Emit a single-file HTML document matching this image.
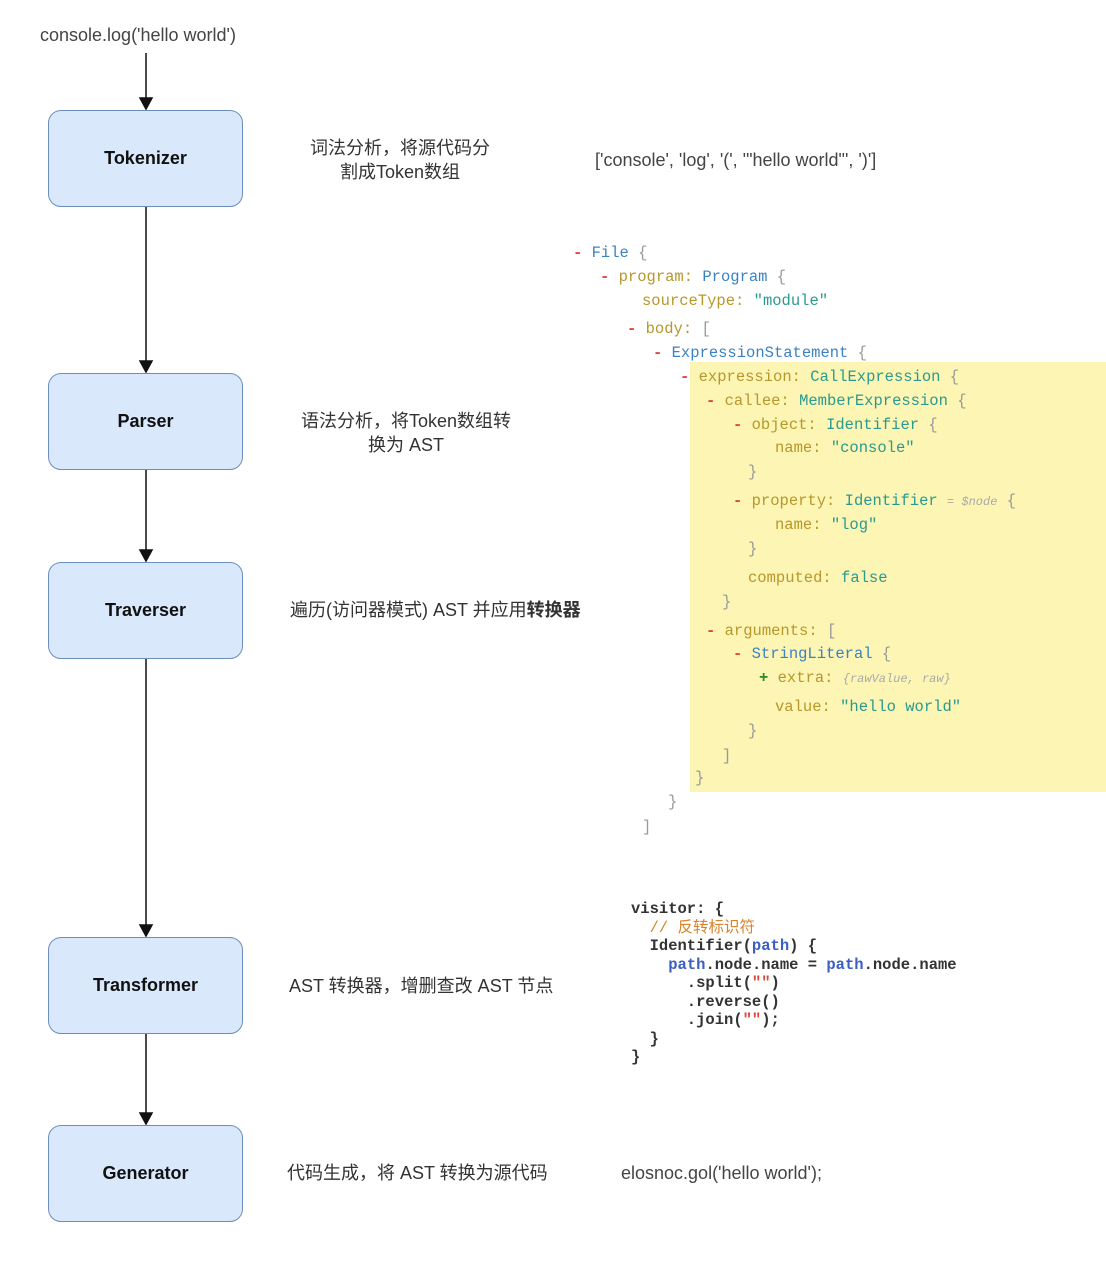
<!DOCTYPE html>
<html><head><meta charset="utf-8"><style>
body{margin:0;width:1106px;height:1266px;background:#fff;position:relative;overflow:hidden;font-family:"Liberation Sans","Noto Sans CJK SC",sans-serif;color:#333}
.a{position:absolute;white-space:nowrap}
.box{position:absolute;left:48px;width:193px;height:95px;background:#dae8fc;border:1px solid #6c8ebf;border-radius:13px;display:flex;align-items:center;justify-content:center;font-weight:bold;font-size:18px;color:#111}
.t{position:absolute;font-size:18px;color:#333;text-align:center;line-height:24px;white-space:nowrap}
.c{position:absolute;font-family:"Liberation Mono",monospace;font-size:15.5px;line-height:18px;white-space:nowrap;color:#999}
.m{color:#e0443a;font-weight:bold}.k{color:#b8972c}.y{color:#3b82c4}.s{color:#2a9a8f}.g{color:#2a8a2a;font-weight:bold}.i{color:#aaa;font-style:italic;font-size:12px}
.v{position:absolute;font-family:"Liberation Mono",monospace;font-size:15.5px;font-weight:bold;line-height:18.5px;color:#333;white-space:pre}
</style></head><body>
<div class="a" style="left:40px;top:25px;font-size:18px;color:#444">console.log('hello world')</div>
<svg class="a" style="left:0;top:0" width="300" height="1266">
<g stroke="#111" stroke-width="1.5" fill="#111">
<line x1="146" y1="53" x2="146" y2="100"/><path d="M140 98 L146 109 L152 98Z"/>
<line x1="146" y1="207" x2="146" y2="362"/><path d="M140 361 L146 372 L152 361Z"/>
<line x1="146" y1="469" x2="146" y2="551"/><path d="M140 550 L146 561 L152 550Z"/>
<line x1="146" y1="658" x2="146" y2="926"/><path d="M140 925 L146 936 L152 925Z"/>
<line x1="146" y1="1033" x2="146" y2="1114"/><path d="M140 1113 L146 1124 L152 1113Z"/>
</g></svg>
<div class="box" style="top:110px">Tokenizer</div>
<div class="box" style="top:373px">Parser</div>
<div class="box" style="top:562px">Traverser</div>
<div class="box" style="top:937px">Transformer</div>
<div class="box" style="top:1125px">Generator</div>
<div class="t" style="left:300px;top:136px;width:200px">词法分析，将源代码分<br>割成Token数组</div>
<div class="t" style="left:290px;top:409px;width:232px">语法分析，将Token数组转<br>换为 AST</div>
<div class="t" style="left:290px;top:598px">遍历(访问器模式) AST 并应用<b>转换器</b></div>
<div class="t" style="left:289px;top:974px">AST 转换器，增删查改 AST 节点</div>
<div class="t" style="left:287px;top:1161px">代码生成，将 AST 转换为源代码</div>
<div class="t" style="left:595px;top:148px;color:#444">['console', 'log', '(', '"hello world"', ')']</div>
<div class="t" style="left:621px;top:1161px;color:#444">elosnoc.gol('hello world');</div>
<div class="a" style="left:690px;top:362px;width:416px;height:430px;background:#fcf5b4"></div>
<div class="c" style="left:573px;top:244px"><span class="m">-</span> <span class="y">File</span>  {</div>
<div class="c" style="left:600px;top:268px"><span class="m">-</span> <span class="k">program:</span> <span class="y">Program</span>  {</div>
<div class="c" style="left:642px;top:292px"><span class="k">sourceType:</span> <span class="s">"module"</span></div>
<div class="c" style="left:627px;top:320px"><span class="m">-</span> <span class="k">body:</span>  [</div>
<div class="c" style="left:653px;top:344px"><span class="m">-</span> <span class="y">ExpressionStatement</span>  {</div>
<div class="c" style="left:680px;top:368px"><span class="m">-</span> <span class="k">expression:</span> <span class="s">CallExpression</span>  {</div>
<div class="c" style="left:706px;top:392px"><span class="m">-</span> <span class="k">callee:</span> <span class="s">MemberExpression</span>  {</div>
<div class="c" style="left:733px;top:416px"><span class="m">-</span> <span class="k">object:</span> <span class="s">Identifier</span>  {</div>
<div class="c" style="left:775px;top:439px"><span class="k">name:</span> <span class="s">"console"</span></div>
<div class="c" style="left:748px;top:463px">}</div>
<div class="c" style="left:733px;top:492px"><span class="m">-</span> <span class="k">property:</span> <span class="s">Identifier</span> <span class="i">= $node</span> {</div>
<div class="c" style="left:775px;top:516px"><span class="k">name:</span> <span class="s">"log"</span></div>
<div class="c" style="left:748px;top:540px">}</div>
<div class="c" style="left:748px;top:569px"><span class="k">computed:</span> <span class="s">false</span></div>
<div class="c" style="left:722px;top:593px">}</div>
<div class="c" style="left:706px;top:622px"><span class="m">-</span> <span class="k">arguments:</span>  [</div>
<div class="c" style="left:733px;top:645px"><span class="m">-</span> <span class="y">StringLiteral</span>  {</div>
<div class="c" style="left:759px;top:669px"><span class="g">+</span> <span class="k">extra:</span> <span class="i">{rawValue, raw}</span></div>
<div class="c" style="left:775px;top:698px"><span class="k">value:</span> <span class="s">"hello world"</span></div>
<div class="c" style="left:748px;top:722px">}</div>
<div class="c" style="left:722px;top:747px">]</div>
<div class="c" style="left:695px;top:769px">}</div>
<div class="c" style="left:668px;top:793px">}</div>
<div class="c" style="left:642px;top:818px">]</div>
<div class="v" style="left:631px;top:900px">visitor: {
  <span style="color:#d9822b;font-weight:normal;font-family:'Liberation Mono','Noto Sans CJK SC',monospace">// 反转标识符</span>
  Identifier(<span style="color:#3b5fc4">path</span>) {
    <span style="color:#3b5fc4">path</span>.node.name = <span style="color:#3b5fc4">path</span>.node.name
      .split(<span style="color:#e0443a">""</span>)
      .reverse()
      .join(<span style="color:#e0443a">""</span>);
  }
}</div>
</body></html>
